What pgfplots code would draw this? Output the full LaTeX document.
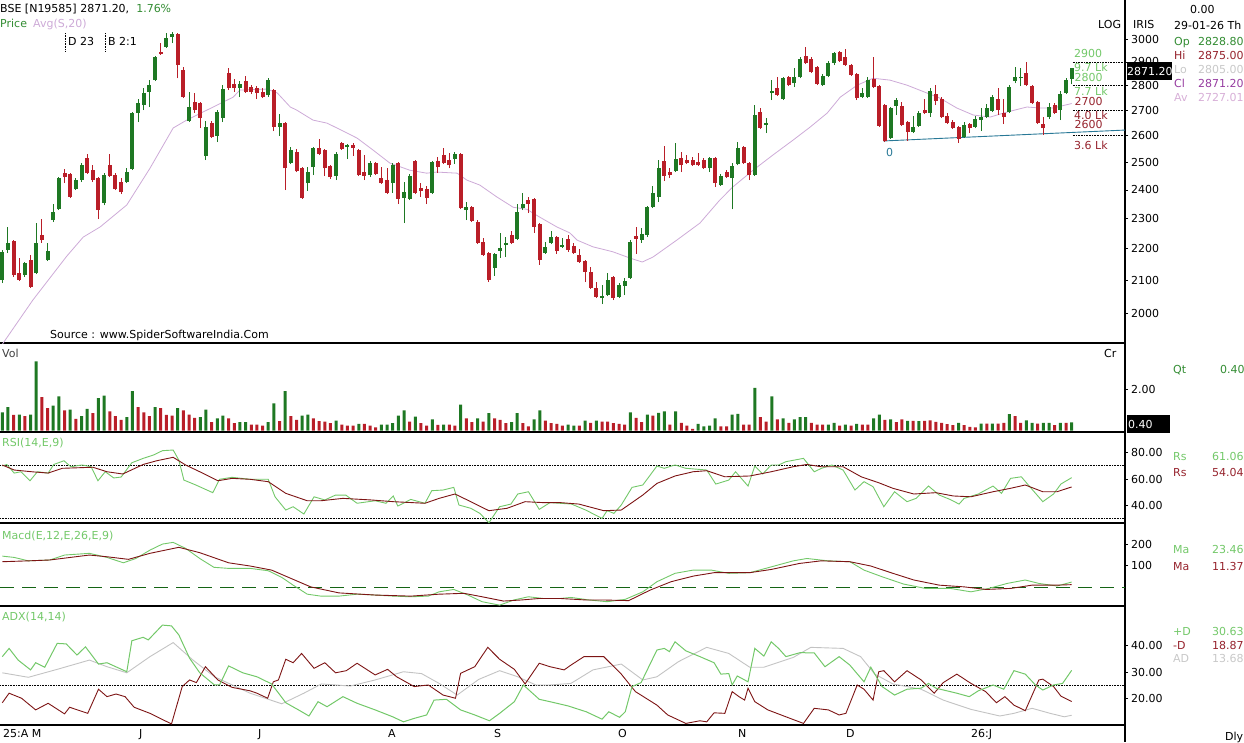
\documentclass[border=0pt]{standalone}
\usepackage{pgfplots}
\pgfplotsset{compat=1.18}
\usepackage{pgfplotstable}
\usepackage{fontspec}
\setmainfont{DejaVu Sans}

\definecolor{cgreen}{RGB}{30,120,35}
\definecolor{cred}{RGB}{185,30,40}
\definecolor{lgreen}{RGB}{115,200,105}
\definecolor{maroon}{RGB}{125,20,20}
\definecolor{adxgrey}{RGB}{195,195,195}
\definecolor{lilac}{RGB}{205,170,215}
\definecolor{tealc}{RGB}{40,120,150}
\definecolor{dkred}{RGB}{150,35,45}
\definecolor{txtgreen}{RGB}{50,140,50}
\definecolor{purp}{RGB}{150,60,160}
\definecolor{pinkc}{RGB}{215,175,215}
\definecolor{lgrey}{RGB}{200,200,200}
\definecolor{zgreen}{RGB}{20,100,20}

% rising candles (close >= open)
\pgfplotstableread{
i o h l c
0 2100 2196 2091 2190
1 2196 2272 2186 2219
4 2116 2157 2110 2154
6 2122 2285 2119 2219
8 2163 2219 2160 2193
9 2295 2350 2288 2322
10 2332 2446 2329 2442
13 2403 2442 2399 2435
14 2435 2497 2428 2489
18 2353 2460 2346 2453
22 2428 2478 2424 2464
23 2475 2693 2471 2689
24 2689 2745 2653 2729
25 2721 2790 2701 2770
26 2774 2823 2713 2802
27 2823 2925 2819 2921
29 2965 3027 2961 3004
30 3009 3031 2982 3022
33 2657 2774 2653 2713
36 2523 2657 2508 2634
38 2599 2701 2576 2693
39 2669 2802 2653 2786
42 2790 2819 2753 2806
47 2761 2831 2753 2823
49 2634 2685 2599 2649
51 2497 2557 2493 2546
54 2424 2482 2396 2464
55 2482 2557 2453 2553
59 2449 2538 2435 2530
61 2557 2569 2512 2565
65 2453 2504 2446 2497
69 2424 2497 2389 2489
71 2371 2428 2285 2392
72 2368 2457 2364 2449
76 2389 2504 2385 2501
80 2512 2538 2493 2530
82 2329 2357 2295 2339
87 2138 2186 2113 2183
88 2193 2252 2170 2202
89 2212 2238 2173 2219
91 2232 2350 2228 2322
92 2336 2389 2329 2350
96 2186 2222 2183 2206
97 2219 2258 2215 2238
99 2206 2235 2202 2212
106 2045 2085 2027 2051
107 2054 2122 2051 2100
109 2048 2091 2045 2085
110 2082 2107 2054 2097
111 2107 2228 2103 2222
113 2228 2268 2219 2248
114 2245 2343 2238 2339
115 2339 2414 2336 2389
116 2375 2508 2357 2478
119 2467 2573 2464 2512
125 2478 2519 2464 2515
127 2417 2457 2414 2449
129 2442 2497 2332 2486
130 2493 2576 2489 2553
133 2453 2721 2449 2681
135 2641 2669 2610 2649
136 2770 2823 2741 2778
138 2745 2835 2741 2831
140 2810 2874 2794 2835
141 2835 2921 2831 2912
145 2802 2848 2798 2840
146 2840 2904 2835 2895
147 2895 2943 2887 2938
152 2753 2790 2749 2770
153 2753 2835 2749 2823
157 2591 2713 2588 2709
158 2717 2749 2681 2741
161 2614 2677 2610 2634
162 2638 2697 2634 2689
164 2689 2790 2673 2778
170 2595 2653 2591 2641
172 2634 2677 2630 2665
173 2661 2709 2618 2673
174 2673 2725 2669 2709
175 2697 2761 2693 2753
178 2693 2802 2689 2794
179 2819 2878 2810 2835
180 2831 2874 2798 2835
185 2673 2729 2665 2713
187 2701 2778 2661 2765
188 2770 2831 2765 2823
189 2828.8 2875 2805 2871.2
}\upc

% falling candles (close < open)
\pgfplotstableread{
i o h l c
2 2225 2228 2110 2116
3 2122 2170 2097 2100
5 2163 2180 2076 2079
7 2245 2298 2219 2228
11 2460 2475 2424 2446
12 2457 2460 2371 2375
15 2515 2530 2457 2460
16 2471 2489 2428 2435
17 2442 2446 2298 2329
19 2489 2530 2446 2449
20 2453 2460 2399 2403
21 2428 2442 2385 2392
28 2943 2982 2930 2934
31 3022 3027 2831 2887
32 2866 2878 2749 2753
34 2733 2770 2689 2701
35 2729 2733 2630 2669
37 2649 2657 2591 2595
40 2853 2874 2782 2790
41 2806 2827 2774 2790
43 2819 2840 2770 2774
44 2794 2802 2765 2774
45 2790 2798 2745 2770
46 2774 2790 2749 2753
48 2782 2786 2618 2634
50 2649 2653 2399 2478
52 2538 2549 2464 2467
53 2478 2482 2368 2371
56 2553 2588 2527 2530
57 2546 2549 2449 2478
58 2486 2489 2439 2446
60 2573 2576 2546 2549
62 2565 2573 2523 2553
63 2546 2549 2449 2453
64 2464 2527 2435 2449
66 2497 2501 2453 2457
67 2442 2482 2421 2424
68 2435 2478 2385 2389
70 2497 2501 2350 2368
73 2504 2508 2385 2389
74 2406 2424 2375 2396
75 2403 2414 2350 2371
77 2504 2519 2460 2482
78 2527 2553 2493 2497
79 2508 2534 2478 2489
81 2530 2534 2332 2336
83 2339 2343 2288 2292
84 2288 2295 2215 2219
85 2222 2235 2176 2180
86 2186 2190 2094 2100
90 2245 2258 2215 2219
93 2364 2375 2319 2350
94 2368 2371 2252 2272
95 2282 2285 2148 2163
98 2238 2241 2183 2193
100 2232 2245 2190 2196
101 2209 2219 2183 2186
102 2180 2199 2154 2157
103 2160 2163 2094 2126
104 2126 2141 2073 2076
105 2076 2094 2045 2048
108 2110 2113 2039 2045
112 2241 2272 2183 2232
117 2504 2561 2431 2449
118 2464 2478 2442 2453
120 2515 2538 2464 2489
121 2508 2527 2493 2497
122 2508 2519 2486 2489
123 2501 2534 2486 2489
124 2508 2515 2475 2478
126 2515 2519 2410 2424
128 2464 2471 2442 2446
131 2557 2561 2493 2497
132 2497 2501 2435 2453
134 2693 2709 2626 2630
137 2790 2835 2757 2761
139 2835 2840 2798 2802
142 2925 2965 2891 2895
143 2912 2921 2853 2857
144 2878 2882 2802 2806
148 2943 2947 2899 2904
149 2921 2956 2882 2887
150 2887 2891 2840 2844
151 2848 2853 2741 2749
154 2827 2921 2790 2794
155 2798 2802 2634 2638
156 2721 2725 2576 2580
159 2717 2733 2638 2641
160 2653 2657 2580 2614
163 2701 2745 2685 2689
165 2765 2802 2721 2737
166 2745 2753 2669 2673
167 2677 2689 2645 2649
168 2653 2661 2626 2630
169 2634 2638 2573 2588
171 2645 2649 2610 2630
176 2745 2790 2681 2701
177 2689 2745 2645 2673
181 2853 2899 2798 2802
182 2798 2802 2725 2729
183 2733 2737 2645 2649
184 2645 2673 2603 2630
186 2721 2729 2685 2689
}\dnc

% volume bars drawn green
\pgfplotstableread{
i v
0 0.89
1 1.14
3 0.78
5 0.78
6 3.38
9 1.22
10 1.67
12 1.02
14 0.70
15 1.06
17 1.58
18 1.71
22 0.65
23 1.92
27 1.14
31 1.09
35 0.65
36 1.02
38 0.60
39 0.73
42 0.41
43 0.41
47 0.41
48 1.33
50 1.92
53 0.73
54 0.78
59 0.49
63 0.33
67 0.29
68 0.29
69 0.36
70 0.73
71 0.98
73 0.68
76 0.54
78 0.29
81 1.27
84 0.60
86 0.85
90 0.41
91 0.85
94 0.54
95 0.98
100 0.29
101 0.24
103 0.49
105 0.49
111 0.89
114 0.78
116 0.86
117 0.93
119 0.93
123 0.33
124 0.21
125 0.24
126 0.60
129 0.78
130 0.81
133 2.08
136 1.67
138 0.60
140 0.54
141 0.65
142 0.65
146 0.29
147 0.37
149 0.29
151 0.33
154 0.60
155 0.78
157 0.54
160 0.47
162 0.46
169 0.37
173 0.34
175 0.34
178 0.80
181 0.50
182 0.37
184 0.37
185 0.37
187 0.37
189 0.40
}\vup

% volume bars drawn red
\pgfplotstableread{
i v
2 0.76
4 0.70
7 1.63
8 1.09
11 0.98
13 0.57
16 0.85
19 0.94
20 0.70
21 0.52
24 1.14
25 0.89
26 0.70
28 1.09
29 0.76
30 0.73
32 0.98
33 0.78
34 0.62
37 0.41
40 0.60
41 0.36
44 0.29
45 0.29
46 0.24
49 0.46
51 0.70
52 0.52
55 0.60
56 0.46
57 0.44
58 0.36
60 0.29
61 0.24
62 0.24
64 0.33
65 0.24
66 0.16
72 0.44
74 0.36
75 0.24
77 0.28
79 0.29
80 0.24
82 0.60
83 0.41
85 0.44
87 0.60
88 0.52
89 0.36
92 0.36
93 0.20
96 0.49
97 0.36
98 0.33
99 0.24
102 0.24
104 0.37
106 0.44
107 0.44
108 0.36
109 0.33
110 0.29
112 0.62
113 0.41
115 0.73
118 0.29
120 0.37
121 0.24
122 0.08
127 0.21
128 0.21
131 0.29
132 0.29
134 0.65
135 0.44
137 0.54
139 0.37
143 0.37
144 0.29
145 0.29
148 0.24
150 0.24
152 0.29
153 0.29
156 0.52
158 0.41
159 0.54
161 0.47
163 0.47
164 0.50
165 0.42
166 0.37
167 0.31
168 0.26
170 0.26
171 0.18
172 0.15
174 0.34
176 0.34
177 0.37
179 0.70
180 0.37
183 0.34
186 0.26
188 0.37
}\vdn

\pgfplotstableread{
i p
0 1910
5.4 2039
11.4 2176
14.3 2238
17.3 2272
22 2347
26.1 2478
30.2 2630
32.6 2661
36.2 2701
40.8 2753
42 2782
46.8 2786
48.6 2770
50.9 2713
52 2701
54.9 2661
57.4 2649
60.9 2611
62.7 2591
65.5 2546
68.5 2497
72 2471
75 2460
76.8 2464
80.4 2460
82.1 2435
84.4 2417
87.4 2375
90.3 2339
92.7 2332
95 2305
98 2272
100.3 2252
101.6 2228
104.4 2206
107.9 2190
110.9 2170
113.1 2157
115 2173
119.2 2228
123.3 2285
126.8 2364
129.1 2410
132.7 2471
136.2 2527
139.8 2584
142.8 2634
145.8 2689
148.1 2753
151.1 2802
153.9 2831
156.9 2823
159.9 2802
163.4 2770
165.7 2749
168.7 2709
171.6 2681
174.6 2673
177.6 2693
181.1 2713
183.4 2709
185.7 2709
189 2727
}\mavg

\pgfplotstableread{
i p
155.7 2580
198.4 2622
}\trend

\newcommand\fs{\fontsize{11}{13}\selectfont}

\pgfplotsset{
  panel/.style={scale only axis, width=1125pt, xmin=-0.4065, xmax=198.43,
    axis x line*=bottom, axis y line*=right,
    axis line style={-, line width=1.5pt, black},
    xtick=\empty, enlargelimits=false, tick align=outside, major tick length=3pt,
    ytick style={black, line width=0.6pt},
    yticklabel style={font=\fs, inner sep=0pt, xshift=3pt},
    anchor=north west, clip=true},
  refline/.style={black, densely dotted, line width=0.6pt},
}

\begin{document}
\begin{tikzpicture}[font=\fs]
\useasboundingbox (0pt,0pt) rectangle (1244pt,-742pt);

% ---------------- price panel ----------------
\begin{axis}[panel, at={(0pt,0pt)}, height=343pt, ymin=7.556664, ymax=8.064060,
  ytick={7.600902,7.649693,7.696213,7.740664,7.783224,7.824046,7.863267,7.901007,7.937375,7.972466,8.006368},
  yticklabels={2000,2100,2200,2300,2400,2500,2600,2700,2800,2900,3000}]
\addplot[lilac, line width=0.8pt] table[x=i, y expr={ln(\thisrow{p})}] {\mavg};
\addplot[tealc, line width=0.9pt] table[x=i, y expr={ln(\thisrow{p})}] {\trend};
\addplot[refline] coordinates {(189.2,7.972466) (198.43,7.972466)};
\addplot[refline] coordinates {(189.2,7.937375) (198.43,7.937375)};
\addplot[refline] coordinates {(189.2,7.901007) (198.43,7.901007)};
\addplot[refline] coordinates {(189.2,7.863267) (198.43,7.863267)};
% wicks
\addplot[-, cgreen, line width=1pt, no markers, quiver={u=0, v={ln(\thisrow{h})-ln(\thisrow{l})}}]
  table[x=i, y expr={ln(\thisrow{l})}] {\upc};
\addplot[-, cred, line width=1pt, no markers, quiver={u=0, v={ln(\thisrow{h})-ln(\thisrow{l})}}]
  table[x=i, y expr={ln(\thisrow{l})}] {\dnc};
% bodies
\addplot[-, cgreen, line width=4pt, no markers, quiver={u=0, v={ln(\thisrow{c})-ln(\thisrow{o})+0.0004}}]
  table[x=i, y expr={ln(\thisrow{o})}] {\upc};
\addplot[-, cred, line width=4pt, no markers, quiver={u=0, v={ln(\thisrow{o})-ln(\thisrow{c})+0.0004}}]
  table[x=i, y expr={ln(\thisrow{c})}] {\dnc};
\end{axis}

% ---------------- volume panel ----------------
\begin{axis}[panel, at={(0pt,-343pt)}, height=89pt, ymin=-0.07, ymax=4.27,
  ytick={2}, yticklabels={2.00}]
\addplot[ybar, bar width=3pt, bar shift=0pt, fill=cgreen, draw=none] table[x=i, y=v] {\vup};
\addplot[ybar, bar width=3pt, bar shift=0pt, fill=cred, draw=none] table[x=i, y=v] {\vdn};
\end{axis}

% ---------------- RSI panel ----------------
\begin{axis}[panel, at={(0pt,-432pt)}, height=91pt, ymin=26.8, ymax=95.5,
  ytick={40,60,80}, yticklabels={40.00,60.00,80.00}]
\addplot[refline] coordinates {(-0.4065,70) (198.43,70)};
\addplot[refline] coordinates {(-0.4065,30) (198.43,30)};
\addplot[lgreen, line width=0.9pt] coordinates {(0,69.8) (0.8,71) (2.1,64.5) (3.3,65.5) (4.9,58.7) (6.2,65.5) (8.1,64.5) (9.1,71) (10.9,73.8) (12.1,69.3) (14.1,70.6) (15.7,69.3) (16.9,58.7) (18.2,65.5) (19.7,60.8) (21,61.5) (22.9,72.3) (24.9,75.6) (26.7,78.1) (28.3,81.4) (30.2,81.9) (31.2,74.3) (32.1,59.2) (34.2,55.5) (37.2,49.7) (38.4,59.8) (40.6,61.3) (43.8,59.8) (47,59.8) (48.2,46.6) (50.1,36.6) (51.4,39.1) (53.3,33.6) (55.1,46.6) (57,44.2) (58.9,47.9) (60.7,47.9) (62.7,41.7) (65.9,43.6) (67.8,41.7) (69.1,47.2) (69.9,39.6) (72.2,44.6) (74.7,41.7) (75.9,51.2) (77.9,51.7) (79.8,53.7) (80.7,40.4) (82.8,37.9) (84.4,34.1) (86,27) (87.9,39.1) (89.9,41.1) (91.1,48.7) (93,50.4) (94.9,37.1) (96.8,42.2) (100.6,41.1) (103.1,36.6) (106,30.3) (106.9,36.1) (108.1,34.1) (109.4,40.4) (111.3,53.7) (113.2,55.5) (115.7,69.8) (117,68.1) (118.9,70.6) (120.8,68.1) (124.5,66.8) (126.1,56.2) (128.4,59.2) (129.6,65.5) (131.8,54.7) (133,69.8) (134.4,63.8) (135.9,70.6) (137.2,70.6) (138.5,73.1) (141.6,75.6) (143.5,65.5) (144.8,68.1) (146.6,70.6) (148.6,66.8) (150.7,51.7) (152.3,58) (153.9,54.2) (155.8,39.1) (157.7,50.4) (159.9,42.9) (161.5,45.4) (163.7,54.7) (165.6,47.9) (167.5,44.6) (169.1,41.1) (170,45.4) (172.5,48.7) (175.1,54.7) (176.6,49.2) (178.2,60.5) (180.1,61.7) (181.6,54.2) (183.9,42.9) (185.8,48.7) (187.1,56.2) (189,61.06)};
\addplot[maroon, line width=0.9pt] coordinates {(0,70.6) (2.1,66.8) (5.2,65.5) (8.1,64.5) (10.6,68.1) (16,68.9) (18.5,65.5) (21.3,63.8) (24.9,71) (27.3,73.8) (30.2,76.4) (32.4,70.6) (34.9,65.5) (38.1,58.7) (40.6,60.5) (43.8,59.8) (47,58) (50.1,49.2) (53.9,43.6) (56.3,43.6) (60.2,45.4) (65.2,44.2) (69.1,42.9) (74.7,41.7) (77.2,45.4) (80,48.7) (82.8,42.9) (86,36.1) (89.2,37.9) (92.4,42.9) (95.6,42.2) (98.6,42.2) (101.9,41.1) (106.3,36.1) (109.4,36.6) (113.2,47.9) (115.7,56.7) (118.9,62.3) (122.1,65.5) (124.5,66.3) (127.7,61.7) (132.1,62.3) (135.9,65.5) (139.8,69.3) (142.2,71) (144.7,69.3) (148.6,69.3) (151.8,61.7) (154.9,57.2) (157.4,53) (161.1,48.7) (165,49.7) (168.1,47.2) (171.2,46.6) (175.1,50.4) (178.2,53) (180.8,55.5) (183.9,50.4) (186.4,50.4) (189,54.04)};
\end{axis}

% ---------------- MACD panel ----------------
\begin{axis}[panel, at={(0pt,-523pt)}, height=83pt, ymin=-88, ymax=298,
  ytick={100,200}, yticklabels={100,200}]
\addplot[zgreen, line width=1pt, dash pattern=on 14pt off 8pt] coordinates {(-0.4065,0) (198.43,0)};
\addplot[lgreen, line width=0.9pt] coordinates {(0,144) (2.1,138) (4.6,122) (8.4,126) (11,149) (15.4,157) (18.5,138) (21.4,113) (23.6,133) (26.1,172) (28.3,200) (30.2,208) (32.4,180) (34.9,133) (37.4,92) (40,87) (43.8,87) (47,76) (49.4,45) (51.4,9) (53.9,-33) (56.3,-42) (59.5,-42) (62.7,-33) (65.9,-37) (69.1,-42) (72.2,-45) (75.3,-42) (77.2,-22) (79.8,-11) (82.3,-37) (84.8,-68) (87.9,-84) (90.4,-60) (93,-45) (95.6,-53) (98.6,-53) (100.5,-48) (103.7,-60) (106.9,-68) (110.1,-57) (113.2,-22) (115.7,25) (118.9,64) (122.1,79) (125.3,79) (128.4,64) (132.1,67) (135.9,94) (139.8,122) (142.2,133) (146,122) (149.8,118) (152.3,79) (155.5,48) (159.3,14) (163.1,-6) (167.5,-6) (171.2,-22) (174.4,-6) (177.6,17) (180.8,33) (183.2,17) (186.4,5) (189,23.46)};
\addplot[maroon, line width=0.9pt] coordinates {(0,118) (4.6,122) (8.4,126) (15.4,149) (18.5,141) (22.3,129) (26.1,157) (31.2,185) (34.9,160) (40,113) (43.8,98) (47.6,79) (51.4,36) (54.5,1) (59.5,-27) (65.9,-37) (72.2,-42) (77.2,-33) (81.6,-29) (84.8,-45) (88.6,-65) (91.7,-60) (94.9,-53) (98.6,-53) (103.2,-60) (106.3,-60) (110.7,-63) (114.5,-14) (118.2,25) (122.1,51) (125.8,67) (132.1,67) (135.9,82) (140.9,110) (144.7,122) (149.8,118) (153.5,98) (157.4,64) (161.1,33) (165.6,9) (170,1) (173.9,-11) (178.3,-6) (182,9) (186.4,9) (189,11.37)};
\end{axis}

% ---------------- ADX panel ----------------
\begin{axis}[panel, at={(0pt,-606pt)}, height=119pt, ymin=10, ymax=54.9,
  ytick={20,30,40}, yticklabels={20.00,30.00,40.00}]
\addplot[refline] coordinates {(-0.4065,25) (198.43,25)};
\addplot[adxgrey, line width=0.9pt] coordinates {(0,29.7) (4.6,28) (9.7,31) (15.4,34.5) (18.5,32) (22,29.7) (26.1,35.8) (30.2,41.1) (33.7,34.5) (37.5,28.2) (43.8,22) (49.4,18) (53.3,22) (56.4,25.5) (61.5,24.7) (65.9,27) (70.9,30.1) (74.1,29.4) (77.2,25.7) (80.4,21.3) (84.2,27.2) (87.9,30.5) (91.1,28.2) (94.3,25.1) (96.8,25.1) (100.5,25.7) (104.4,30.8) (109.4,33) (113.2,27) (115.7,28.2) (119.5,33.9) (124.5,39.3) (128.4,37) (132.1,31.8) (134.6,31.8) (139.8,35.5) (142.9,39.3) (148.6,38.9) (151.7,35.8) (154.2,29.2) (157.4,25.5) (162.4,23.5) (166.3,19.4) (171.2,15.9) (176.3,13.4) (178.8,14.4) (182,16.3) (185.2,14.4) (187.7,13.1) (189,13.68)};
\addplot[maroon, line width=0.9pt] coordinates {(0,18.4) (1.2,22) (3.4,20.1) (5.9,15.7) (8.1,18.2) (11,14.2) (11.9,16.7) (15.1,14.4) (17,23.5) (18.5,20.7) (20.1,21.7) (21.7,20.7) (23.3,16.7) (26.1,14.4) (29.9,10.4) (31.8,24.5) (33.1,27) (34.3,26) (35.9,32) (38.1,27) (40.6,24.2) (43.8,22.9) (45,22) (46.9,20.1) (47.9,26.3) (48.8,27) (50.1,34.8) (51.4,33.5) (52.9,37) (55.1,31.4) (57,33.5) (58.9,29.7) (60.8,30.5) (62.7,33.3) (65.9,28.9) (68.1,31) (69.7,28.2) (72.8,24.5) (75.3,25.1) (77.9,21.3) (80.1,20.1) (81,29.5) (83.5,32) (85.8,39.3) (87.9,34.8) (90.5,31) (92.4,25.5) (94.9,33.3) (96.8,32) (99.3,30.8) (100.5,32.6) (102.8,35.8) (106.3,35.8) (109.4,29.2) (111.9,22.6) (115.7,17.5) (117.6,13.8) (120.8,10.6) (123.3,11.6) (124.5,11.2) (125.8,14.6) (127.7,14.4) (129,22.6) (130.2,20.7) (131.2,19.4) (131.8,23.9) (133,18.8) (135.3,15.7) (138.5,13.1) (141.6,10.6) (143.5,16.3) (146,15.7) (147.9,13.8) (149.1,14.4) (151.1,25.1) (152.3,23.5) (153.9,19.4) (154.9,30.1) (155.8,30.5) (157.7,26.3) (159.9,30.5) (162.4,27) (164.7,22) (166.3,26) (168.7,29.2) (171.2,25.7) (173.8,22.6) (175.7,18.4) (177.2,20.7) (178.8,17.5) (180.8,15.4) (183.2,27) (183.9,27.3) (185.8,24.5) (187.1,20.9) (189,18.87)};
\addplot[lgreen, line width=1pt] coordinates {(0,35.8) (1.2,38.9) (2.8,34.5) (5,30.8) (5.9,33.5) (7.5,31.8) (9.7,40.8) (11.3,40.6) (13.2,36.4) (14.7,39.5) (17,33) (18.5,33.5) (22,30.1) (22.9,41.8) (24.9,43.1) (25.8,42.1) (28.3,47.7) (29.9,47.4) (31.2,44) (33.1,35.2) (34.9,29.7) (37.5,25.1) (38.4,25.1) (40,32.3) (42.5,29.7) (45,28.2) (47.6,25.5) (50.1,18.4) (52.6,15.4) (54.2,13.4) (55.8,18.8) (57.4,16.9) (60.2,20.7) (62.7,18.2) (65.9,15.7) (69,13.1) (70.9,11.2) (72.8,12.5) (75,13.8) (76.3,19.4) (78.5,19.7) (81,15.7) (83.5,13.8) (86.1,11.6) (87.9,14.4) (90.5,18.8) (92.1,25.1) (94.9,19.7) (96.8,18.8) (100,17.2) (103.2,15) (106,12.2) (107.2,15) (109.1,12.9) (110.1,15) (111.3,24.5) (112.9,26) (115.7,38.3) (117,38.9) (117.9,37.7) (118.9,41.4) (120.8,38) (123.3,35.8) (125.8,33.5) (127,29.2) (128.4,29.4) (129,25.1) (129.9,28.5) (131.8,26.3) (133,38.9) (134.6,36) (135.9,41.4) (137.2,38.9) (138.5,35.8) (141,37.3) (143.5,37.2) (145.4,32) (147.9,35.8) (149.8,32.6) (152.3,26.3) (153.5,31.8) (155.5,24.5) (157.7,21.3) (159.9,23.5) (162.4,23.9) (163.7,25.7) (165,23.9) (168.7,22) (170.9,20.7) (172.5,22.9) (175.1,25.1) (177,23.5) (178.8,30.5) (180.8,29.2) (182.6,25.1) (183.9,23.2) (185.8,25.1) (187.4,25.7) (189,30.63)};
\end{axis}

\draw[line width=1.5pt] (1125pt,-725pt) -- (1125pt,-742pt);

% ---------------- texts ----------------
\begin{scope}[every node/.style={anchor=base west, inner sep=0pt, font=\fs}]
\node at (0pt,-12pt) {BSE [N19585] 2871.20,\ \ \textcolor{txtgreen}{1.76\%}};
\node[text=txtgreen] at (0pt,-27pt) {Price};
\node[text=lilac] at (33pt,-27pt) {Avg(S,20)};
\node at (68pt,-45pt) {D 23};
\node at (108pt,-45pt) {B 2:1};
\node at (50pt,-338pt) {Source : www.SpiderSoftwareIndia.Com};
\node at (1098pt,-28pt) {LOG};
\node at (1133pt,-28pt) {IRIS};
\node at (1190pt,-13pt) {0.00};
\node at (1174pt,-29pt) {29-01-26 Th};
\node[text=txtgreen] at (1174pt,-45pt) {Op};
\node[text=txtgreen] at (1198pt,-45pt) {2828.80};
\node[text=dkred] at (1174pt,-59pt) {Hi};
\node[text=dkred] at (1198pt,-59pt) {2875.00};
\node[text=lgrey] at (1174pt,-73pt) {Lo};
\node[text=lgrey] at (1198pt,-73pt) {2805.00};
\node[text=purp] at (1174pt,-87pt) {Cl};
\node[text=purp] at (1198pt,-87pt) {2871.20};
\node[text=pinkc] at (1174pt,-101pt) {Av};
\node[text=pinkc] at (1198pt,-101pt) {2727.01};
% level labels
\node[text=lgreen] at (1074pt,-57pt) {2900};
\node[text=lgreen] at (1074pt,-71pt) {9.7 Lk};
\node[text=lgreen, fill=white, inner sep=0.5pt] at (1074pt,-81pt) {2800};
\node[text=lgreen] at (1074pt,-95pt) {7.7 Lk};
\node[text=dkred, fill=white, inner sep=0.5pt] at (1074pt,-105pt) {2700};
\node[text=dkred] at (1074pt,-119pt) {4.0 Lk};
\node[text=dkred, fill=white, inner sep=0.5pt] at (1074pt,-128pt) {2600};
\node[text=dkred] at (1074pt,-149pt) {3.6 Lk};
\node[text=tealc] at (886pt,-156pt) {0};
% volume
\node[text=black!75] at (2pt,-357pt) {Vol};
\node at (1104pt,-357pt) {Cr};
\node[text=txtgreen] at (1173pt,-373pt) {Qt};
\node[text=txtgreen] at (1220pt,-373pt) {0.40};
% RSI
\node[text=lgreen] at (2pt,-446pt) {RSI(14,E,9)};
\node[text=lgreen] at (1173pt,-460pt) {Rs};
\node[text=lgreen] at (1212pt,-460pt) {61.06};
\node[text=dkred] at (1173pt,-476pt) {Rs};
\node[text=dkred] at (1212pt,-476pt) {54.04};
% MACD
\node[text=lgreen] at (2pt,-539pt) {Macd(E,12,E,26,E,9)};
\node[text=lgreen] at (1173pt,-553pt) {Ma};
\node[text=lgreen] at (1212pt,-553pt) {23.46};
\node[text=dkred] at (1173pt,-570pt) {Ma};
\node[text=dkred] at (1212pt,-570pt) {11.37};
% ADX
\node[text=lgreen] at (2pt,-620pt) {ADX(14,14)};
\node[text=lgreen] at (1173pt,-635pt) {+D};
\node[text=lgreen] at (1212pt,-635pt) {30.63};
\node[text=dkred] at (1173pt,-649pt) {-D};
\node[text=dkred] at (1212pt,-649pt) {18.87};
\node[text=lgrey] at (1173pt,-662pt) {AD};
\node[text=lgrey] at (1212pt,-662pt) {13.68};
% dates
\node at (3pt,-737pt) {25:A M};
\node at (139pt,-737pt) {J};
\node at (258pt,-737pt) {J};
\node at (388pt,-737pt) {A};
\node at (494pt,-737pt) {S};
\node at (618pt,-737pt) {O};
\node at (738pt,-737pt) {N};
\node at (846pt,-737pt) {D};
\node at (971pt,-737pt) {26:J};
\node at (1225pt,-740pt) {Dly};
\end{scope}

\draw[densely dotted, line width=0.6pt] (65pt,-33pt) -- (65pt,-52pt);
\draw[densely dotted, line width=0.6pt] (105pt,-33pt) -- (105pt,-52pt);

% value boxes
\fill[black] (1126.5pt,-62pt) rectangle (1172pt,-80pt);
\node[anchor=base west, inner sep=0pt, text=white] at (1127pt,-75.5pt) {2871.20};
\fill[black] (1126.5pt,-415pt) rectangle (1170pt,-433pt);
\node[anchor=base west, inner sep=0pt, text=white] at (1128pt,-428.5pt) {0.40};
\end{tikzpicture}
\end{document}
